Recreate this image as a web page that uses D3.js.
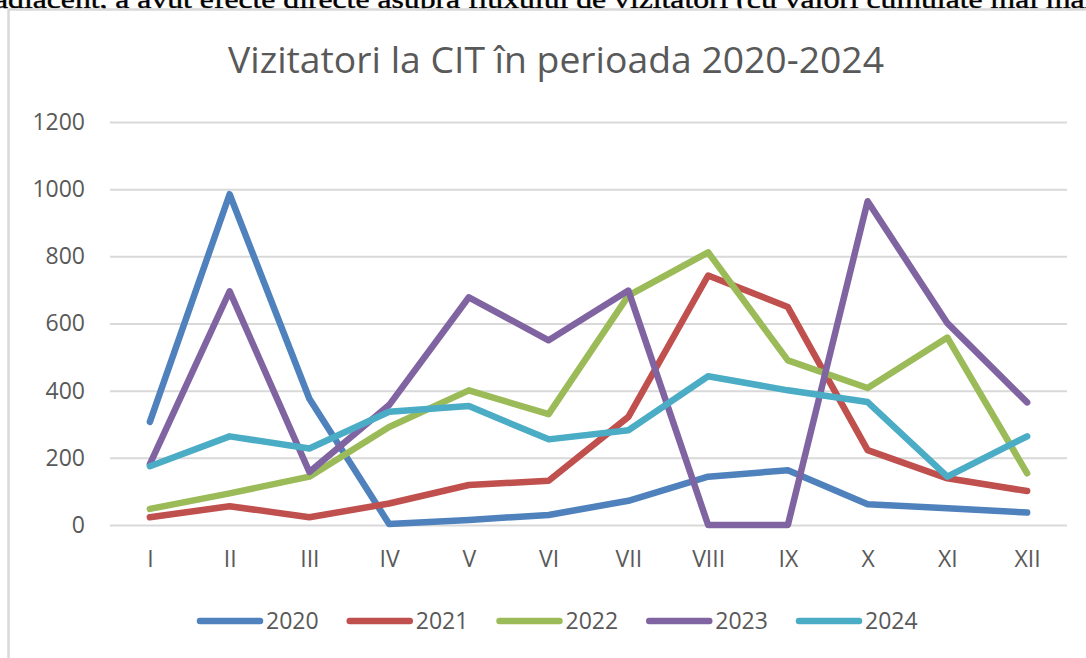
<!DOCTYPE html>
<html>
<head>
<meta charset="utf-8">
<script src="https://cdn.jsdelivr.net/npm/d3@7"></script>
<style>
  body { margin: 0; background: #fff; overflow: hidden; }
</style>
</head>
<body>
<div id="wrapper"></div>
<script>
// data
const months = ["I", "II", "III", "IV", "V", "VI", "VII", "VIII", "IX", "X", "XI", "XII"];
const years = ["2020", "2021", "2022", "2023", "2024"];
const v2020 = [307, 985, 376, 3, 15, 30, 72, 144, 163, 62, 50, 37];
const v2021 = [23, 56, 23, 64, 119, 132, 322, 743, 649, 223, 139, 101];
const v2022 = [48, 94, 144, 292, 401, 330, 683, 812, 490, 408, 558, 154];
const v2023 = [181, 696, 158, 357, 678, 550, 698, 0, 0, 964, 601, 365];
const v2024 = [175, 264, 228, 337, 354, 255, 282, 443, 401, 366, 144, 264];
const yTicks = [0, 200, 400, 600, 800, 1000, 1200];
const colors = ["#4F81BD", "#C0504D", "#9BBB59", "#8064A2", "#4BACC6"];

const series = years.map((y, i) => ({
    name: y,
    values: [v2020, v2021, v2022, v2023, v2024][i],
    color: colors[i],
}));

let dimensions = {
    width: 1086,
    height: 658,
    margin: { top: 122, right: 19, bottom: 133, left: 110 },
};
dimensions.boundedWidth = dimensions.width - dimensions.margin.left - dimensions.margin.right;
dimensions.boundedHeight = dimensions.height - dimensions.margin.top - dimensions.margin.bottom;

const font = "'Open Sans', 'Noto Sans', sans-serif";
const grey = "#595959";

const wrapper = d3.select("#wrapper")
    .append("svg")
    .attr("width", dimensions.width)
    .attr("height", dimensions.height);

// page text cut off above the chart
wrapper.append("text")
    .attr("x", -6)
    .attr("y", 8)
    .attr("font-family", "'Liberation Serif', 'DejaVu Serif', serif")
    .attr("font-size", 25)
    .attr("fill", "#000")
    .attr("stroke", "#000")
    .attr("stroke-width", 0.4)
    .attr("textLength", 1110)
    .attr("lengthAdjust", "spacingAndGlyphs")
    .text("adiacent, a avut efecte directe asupra fluxului de vizitatori (cu valori cumulate mai mari");

// chart frame
wrapper.append("rect")
    .attr("x", 8.5)
    .attr("y", 9.5)
    .attr("width", 1200)
    .attr("height", 700)
    .attr("fill", "#fff")
    .attr("stroke", "#D9D9D9")
    .attr("stroke-width", 2.5);

wrapper.append("text")
    .attr("x", 556)
    .attr("y", 73)
    .attr("text-anchor", "middle")
    .attr("font-family", font)
    .attr("font-size", 36)
    .attr("fill", grey)
    .attr("textLength", 656)
    .attr("lengthAdjust", "spacingAndGlyphs")
    .text("Vizitatori la CIT în perioada 2020-2024");

const bounds = wrapper.append("g")
    .attr("transform", `translate(${dimensions.margin.left}, ${dimensions.margin.top})`);

const xScale = d3.scalePoint()
    .domain(months)
    .range([0, dimensions.boundedWidth])
    .padding(0.5);

const yScale = d3.scaleLinear()
    .domain([0, 1200])
    .range([dimensions.boundedHeight, 0]);

// gridlines + y labels
const yAxisGenerator = d3.axisLeft(yScale)
    .tickValues(yTicks)
    .tickFormat(d3.format("d"))
    .tickSize(-dimensions.boundedWidth)
    .tickPadding(25);

const yAxis = bounds.append("g").call(yAxisGenerator);
yAxis.select(".domain").remove();
yAxis.selectAll("line").attr("stroke", "#D9D9D9").attr("stroke-width", 2);
yAxis.selectAll("text")
    .attr("fill", grey)
    .attr("font-family", font)
    .attr("font-size", 23);

const xAxisGenerator = d3.axisBottom(xScale)
    .tickSize(0)
    .tickPadding(26);

const xAxis = bounds.append("g")
    .attr("transform", `translate(0, ${dimensions.boundedHeight})`)
    .call(xAxisGenerator);
xAxis.select(".domain").remove();
xAxis.selectAll("text")
    .attr("fill", grey)
    .attr("font-family", font)
    .attr("font-size", 23);

// lines
const lineGenerator = d3.line()
    .x((d, i) => xScale(months[i]))
    .y(d => yScale(d));

bounds.selectAll(".series")
    .data(series)
    .enter()
    .append("path")
    .attr("class", "series")
    .attr("d", d => lineGenerator(d.values))
    .attr("fill", "none")
    .attr("stroke", d => d.color)
    .attr("stroke-width", 6.5)
    .attr("stroke-linecap", "round")
    .attr("stroke-linejoin", "round");

// legend
const legendX = d3.scalePoint()
    .domain(years)
    .range([198, 797]);

const legend = wrapper.append("g")
    .selectAll("g")
    .data(series)
    .enter()
    .append("g")
    .attr("transform", d => `translate(${legendX(d.name)}, 621)`);

legend.append("line")
    .attr("x1", 2)
    .attr("x2", 62)
    .attr("stroke", d => d.color)
    .attr("stroke-width", 6.5)
    .attr("stroke-linecap", "round");

legend.append("text")
    .attr("x", 68)
    .attr("y", 8)
    .attr("fill", grey)
    .attr("font-family", font)
    .attr("font-size", 23)
    .text(d => d.name);
</script>
</body>
</html>
